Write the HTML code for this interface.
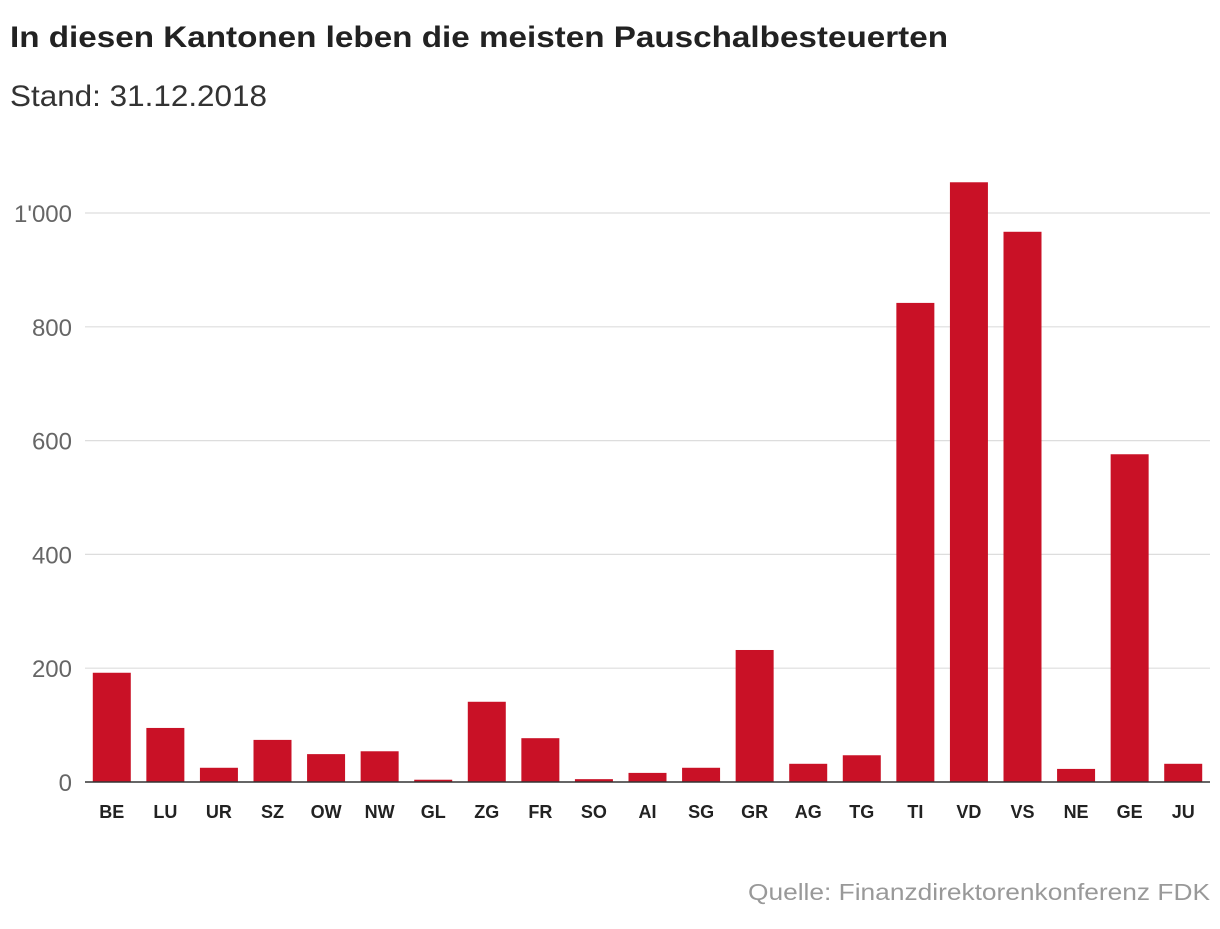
<!DOCTYPE html>
<html><head><meta charset="utf-8"><style>
body{margin:0;background:#fff;font-family:"Liberation Sans",sans-serif;}
svg text{font-family:"Liberation Sans",sans-serif;}
</style></head><body>
<svg id="chart" width="1220" height="924" xmlns="http://www.w3.org/2000/svg">
<text x="10" y="47" font-size="30" font-weight="bold" fill="#222" textLength="938" lengthAdjust="spacingAndGlyphs">In diesen Kantonen leben die meisten Pauschalbesteuerten</text>
<text x="10" y="106" font-size="30" fill="#333" textLength="257" lengthAdjust="spacingAndGlyphs">Stand: 31.12.2018</text>
<g id="grid"></g>
<g id="bars"></g>
<g id="xlabels"></g>
<text x="748" y="900" font-size="23" fill="#999" textLength="462" lengthAdjust="spacingAndGlyphs">Quelle: Finanzdirektorenkonferenz FDK</text>
</svg>
<script>
const categories=["BE","LU","UR","SZ","OW","NW","GL","ZG","FR","SO","AI","SG","GR","AG","TG","TI","VD","VS","NE","GE","JU"];
const values=[192,95,25,74,49,54,4,141,77,5,16,25,232,32,47,842,1054,967,23,576,32];
const ticks=[0,200,400,600,800,1000];
const tickLabels=["0","200","400","600","800","1'000"];
const NS="http://www.w3.org/2000/svg";
const x0=85,x1=1210,y0=782,yTop=213;
const y=v=>y0-(v/1000)*(y0-yTop);
const band=(x1-x0)/categories.length;
const bw=38;
const xc=i=>x0+band*(i+0.5);
const grid=document.getElementById('grid');
ticks.forEach((t,i)=>{
  const l=document.createElementNS(NS,'line');
  
  
  l.setAttribute('x1',x0);l.setAttribute('x2',x1);
  l.setAttribute('y1',y(t));l.setAttribute('y2',y(t));
  l.setAttribute('stroke','#ddd');l.setAttribute('stroke-width',1.2);
  if(t!==0)grid.appendChild(l);
  const tx=document.createElementNS(NS,'text');
  
  
  tx.setAttribute('x',72);tx.setAttribute('y',y(t)+9);
  tx.setAttribute('text-anchor','end');tx.setAttribute('font-size','24');tx.setAttribute('fill','#666');
  tx.textContent=tickLabels[i];grid.appendChild(tx);
});
const bars=document.getElementById('bars');
values.forEach((v,i)=>{
  const r=document.createElementNS(NS,'rect');
  
  
  r.setAttribute('x',xc(i)-bw/2);r.setAttribute('width',bw);
  r.setAttribute('y',y(v));r.setAttribute('height',y0-y(v));
  r.setAttribute('fill','#c91126');
  bars.appendChild(r);
});
const ax=document.createElementNS(NS,'line');


ax.setAttribute('x1',x0);ax.setAttribute('x2',x1);ax.setAttribute('y1',y0);ax.setAttribute('y2',y0);
ax.setAttribute('stroke','#333');ax.setAttribute('stroke-width','1.5');
bars.appendChild(ax);
const xl=document.getElementById('xlabels');
categories.forEach((c,i)=>{
  const t=document.createElementNS(NS,'text');
  
  
  t.setAttribute('x',xc(i));t.setAttribute('y',818);
  t.setAttribute('text-anchor','middle');t.setAttribute('font-size','18');t.setAttribute('font-weight','bold');t.setAttribute('fill','#222');
  t.textContent=c;xl.appendChild(t);
});
</script>
</body></html>
